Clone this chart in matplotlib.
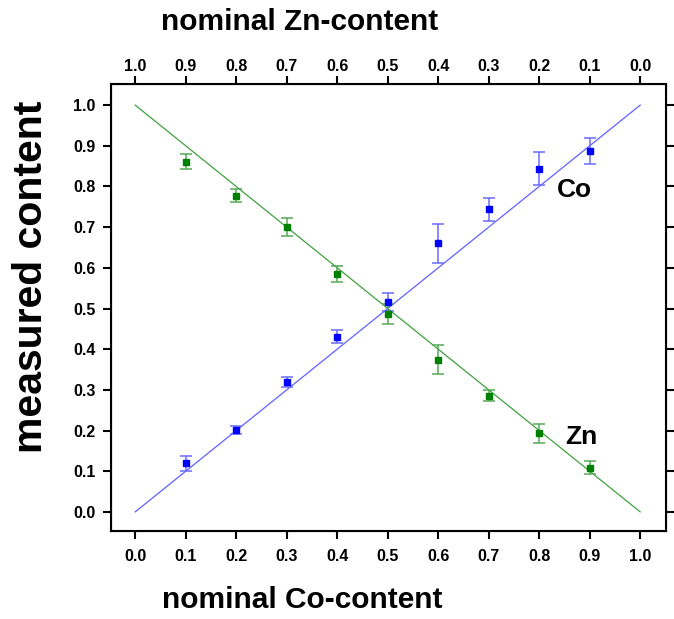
import matplotlib
matplotlib.use('Agg')
import matplotlib.pyplot as plt

plt.rcParams['font.family'] = ['Liberation Sans', 'DejaVu Sans']
plt.rcParams['font.weight'] = 'bold'

# nominal Co-content for each sample
nominal_co = [0.1, 0.2, 0.3, 0.4, 0.5, 0.6, 0.7, 0.8, 0.9]

# measured Co / Zn content with error
co_meas = [0.119, 0.202, 0.319, 0.430, 0.517, 0.660, 0.744, 0.844, 0.888]
co_err = [0.018, 0.010, 0.012, 0.016, 0.022, 0.047, 0.028, 0.040, 0.032]
zn_meas = [0.861, 0.777, 0.701, 0.585, 0.486, 0.374, 0.286, 0.193, 0.109]
zn_err = [0.019, 0.016, 0.022, 0.019, 0.025, 0.036, 0.013, 0.023, 0.016]

# ideal lines
ideal_x = [0.0, 1.0]
co_ideal = [0.0, 1.0]
zn_ideal = [1.0, 0.0]

ticks = [0.0, 0.1, 0.2, 0.3, 0.4, 0.5, 0.6, 0.7, 0.8, 0.9, 1.0]
zn_tick_labels = ['1.0', '0.9', '0.8', '0.7', '0.6', '0.5', '0.4', '0.3', '0.2', '0.1', '0.0']

blue = '#0000ff'
green = '#008000'

fig = plt.figure(figsize=(6.74, 6.19), dpi=100)
ax = fig.add_axes([0.1647, 0.1422, 0.8233, 0.7221])

ax.plot(ideal_x, co_ideal, color='#6060ff', lw=0.9)
ax.plot(ideal_x, zn_ideal, color='#40a040', lw=0.9)

ax.errorbar(nominal_co, co_meas, yerr=co_err, fmt='s', color=blue, ms=4.8,
            ecolor='#6a6aff', elinewidth=1.1, capsize=4.5, capthick=1.1)
ax.errorbar(nominal_co, zn_meas, yerr=zn_err, fmt='s', color=green, ms=4.8,
            ecolor='#55aa55', elinewidth=1.1, capsize=4.5, capthick=1.1)

ax.text(0.870, 0.791, 'Co', fontsize=19, fontweight='bold', ha='center', va='center')
ax.text(0.884, 0.184, 'Zn', fontsize=19, fontweight='bold', ha='center', va='center')

ax.set_xlim(-0.048, 1.051)
ax.set_ylim(-0.047, 1.052)
ax.set_xticks(ticks)
ax.set_yticks(ticks)
ax.set_xticklabels(['%.1f' % t for t in ticks])
ax.set_yticklabels(['%.1f' % t for t in ticks])
ax.tick_params(direction='out', length=6, width=1.5, labelsize=11.5, pad=5)
ax.tick_params(axis='x', pad=7)
for lab in ax.get_xticklabels() + ax.get_yticklabels():
    lab.set_fontweight('bold')
for sp in ax.spines.values():
    sp.set_linewidth(1.5)

top = ax.twiny()
top.set_xlim(ax.get_xlim())
top.set_xticks(ticks)
top.set_xticklabels(zn_tick_labels)
top.tick_params(direction='out', length=6, width=1.5, labelsize=11.5, pad=1.5)
for lab in top.get_xticklabels():
    lab.set_fontweight('bold')

# right side ticks without labels
ax.tick_params(axis='y', which='both', right=True)

# axis titles
fig.text(0.448, 0.031, 'nominal Co-content', fontsize=21.5, fontweight='bold',
         ha='center', va='center')
fig.text(0.445, 0.964, 'nominal Zn-content', fontsize=21.5, fontweight='bold',
         ha='center', va='center')
fig.text(0.046, 0.552, 'measured content', fontsize=29.5, fontweight='bold',
         rotation=90, ha='center', va='center')

fig.savefig('out.png', dpi=100)
